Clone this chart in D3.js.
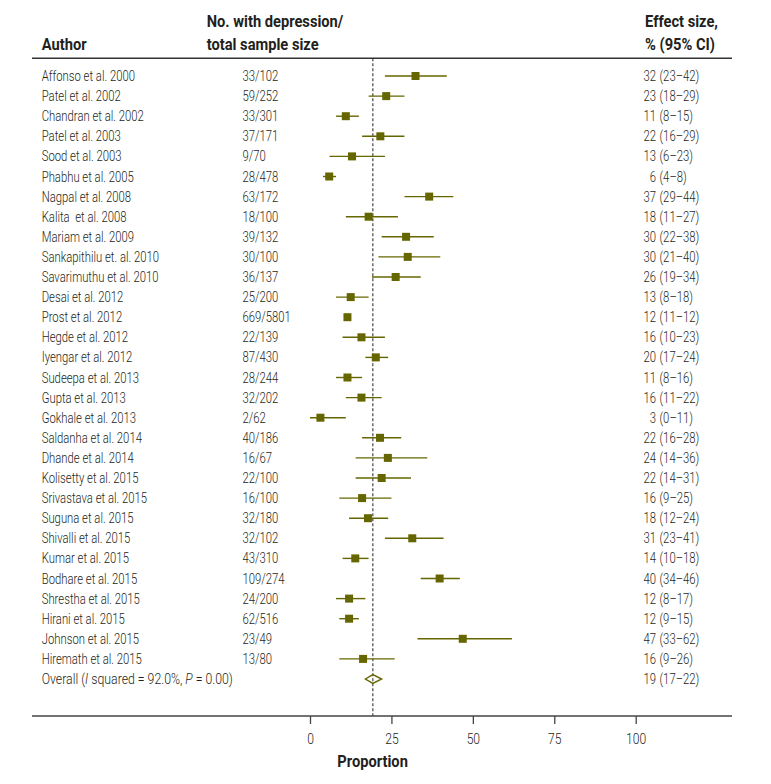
<!DOCTYPE html>
<html><head><meta charset="utf-8">
<script src="https://cdn.jsdelivr.net/npm/d3@7"></script>
<style>
html,body{margin:0;padding:0;background:#fff;}
svg{display:block;}
</style></head>
<body>
<svg id="chart" width="771" height="784"></svg>
<script>
const authors = ["Affonso et al. 2000","Patel et al. 2002","Chandran et al. 2002","Patel et al. 2003","Sood et al. 2003","Phabhu et al. 2005","Nagpal et al. 2008","Kalita\u00a0 et al. 2008","Mariam et al. 2009","Sankapithilu et. al. 2010","Savarimuthu et al. 2010","Desai et al. 2012","Prost et al. 2012","Hegde et al. 2012","Iyengar et al. 2012","Sudeepa et al. 2013","Gupta et al. 2013","Gokhale et al. 2013","Saldanha et al. 2014","Dhande et al. 2014","Kolisetty et al. 2015","Srivastava et al. 2015","Suguna et al. 2015","Shivalli et al. 2015","Kumar et al. 2015","Bodhare et al. 2015","Shrestha et al. 2015","Hirani et al. 2015","Johnson et al. 2015","Hiremath et al. 2015"];
const counts = ["33/102","59/252","33/301","37/171","9/70","28/478","63/172","18/100","39/132","30/100","36/137","25/200","669/5801","22/139","87/430","28/244","32/202","2/62","40/186","16/67","22/100","16/100","32/180","32/102","43/310","109/274","24/200","62/516","23/49","13/80"];
const estimates = [32.4,23.4,11.0,21.6,12.9,5.9,36.6,18.0,29.5,30.0,26.3,12.5,11.5,15.8,20.2,11.5,15.8,3.2,21.5,23.9,22.0,16.0,17.8,31.4,13.9,39.8,12.0,12.0,46.9,16.3];
const lower = [23,18,8,16,6,4,29,11,22,21,19,8,11,10,17,8,11,0,16,14,14,9,12,23,10,34,8,9,33,9];
const upper = [42,29,15,29,23,8,44,27,38,40,34,18,12,23,24,16,22,11,28,36,31,25,24,41,18,46,17,15,62,26];
const estLabels = ["32","23","11","22","13","6","37","18","30","30","26","13","12","16","20","11","16","3","22","24","22","16","18","31","14","40","12","12","47","16"];
const ciLabels = ["(23\u201342)","(18\u201329)","(8\u201315)","(16\u201329)","(6\u201323)","(4\u20138)","(29\u201344)","(11\u201327)","(22\u201338)","(21\u201340)","(19\u201334)","(8\u201318)","(11\u201312)","(10\u201323)","(17\u201324)","(8\u201316)","(11\u201322)","(0\u201311)","(16\u201328)","(14\u201336)","(14\u201331)","(9\u201325)","(12\u201324)","(23\u201341)","(10\u201318)","(34\u201346)","(8\u201317)","(9\u201315)","(33\u201362)","(9\u201326)"];
const overallEst = 19.3, overallLo = 17, overallHi = 22;
const overallEstLabel = "19", overallCiLabel = "(17\u201322)";
const tickValues = [0,25,50,75,100];
const axisTitle = "Proportion";

const olive = "#666600";
const textCol = "#231f20";
const bodyFont = "Roboto, 'Liberation Sans', sans-serif";
const svg = d3.select("#chart");

function measure(str, size, weight){
  const t = svg.append("text").attr("font-family", bodyFont).attr("font-size", size)
    .attr("font-weight", weight).text(str);
  const w = t.node().getComputedTextLength(); t.remove(); return w;
}
const sxBody = 93.3 / measure("Affonso et al. 2000", 14, 300);
const sxBold = 136.7 / measure("No. with depression/", 17, 700);

function txt(g, x, y, str, opt={}){
  const size = opt.size || 14, weight = opt.weight || 300;
  const sx = weight >= 600 ? sxBold : sxBody;
  return g.append("text")
    .attr("transform", `translate(${x},${y}) scale(${sx},1)`)
    .attr("font-family", bodyFont).attr("font-size", size).attr("font-weight", weight)
    .attr("fill", textCol).attr("text-anchor", opt.anchor || "start").text(str);
}

const x = d3.scaleLinear().domain([0,100]).range([310, 635.7]);
const y = d3.scaleLinear().domain([0,30]).range([76, 679]);
const leftX = 32, rightX = 732;

// headers
const hdr = svg.append("g");
txt(hdr, 41.7, 50, "Author", {size:17, weight:700});
txt(hdr, 206.7, 27, "No. with depression/", {size:17, weight:700});
txt(hdr, 206.7, 50, "total sample size", {size:17, weight:700});
txt(hdr, 645, 27, "Effect size,", {size:17, weight:700});
txt(hdr, 645, 50, "% (95% CI)", {size:17, weight:700});
svg.append("line").attr("x1", leftX).attr("x2", rightX).attr("y1", 58.3).attr("y2", 58.3)
  .attr("stroke", "#333").attr("stroke-width", 1.4);

// dashed reference line
svg.append("line").attr("x1", x(overallEst)).attr("x2", x(overallEst))
  .attr("y1", 58.3).attr("y2", 716).attr("stroke", "#333").attr("stroke-width", 1.1)
  .attr("stroke-dasharray", "3,2");

// rows
const rows = svg.append("g");
authors.forEach((a, i) => {
  const cy = y(i);
  txt(rows, 41.7, cy + 5, a);
  txt(rows, 242.5, cy + 5, counts[i]);
  txt(rows, 656, cy + 5, estLabels[i], {anchor:"end"});
  txt(rows, 659.5, cy + 5, ciLabels[i]);
});
rows.selectAll("line.ci").data(estimates).join("line").attr("class","ci")
  .attr("x1", (d,i) => x(lower[i])).attr("x2", (d,i) => x(upper[i]))
  .attr("y1", (d,i) => y(i)).attr("y2", (d,i) => y(i))
  .attr("stroke", olive).attr("stroke-width", 1.4);
rows.selectAll("rect.pt").data(estimates).join("rect").attr("class","pt")
  .attr("x", d => x(d) - 4).attr("y", (d,i) => y(i) - 4)
  .attr("width", 8).attr("height", 8).attr("fill", olive);

// overall
const oy = y(30);
const ov = txt(rows, 41.7, oy + 5, "Overall (");
ov.append("tspan").attr("font-style","italic").text("I");
ov.append("tspan").text(" squared = 92.0%, ");
ov.append("tspan").attr("font-style","italic").text("P");
ov.append("tspan").text(" = 0.00)");
const ovLen = ov.node().getComputedTextLength();
ov.attr("transform", `translate(41.7,${oy + 5}) scale(${191.3 / ovLen},1)`);
txt(rows, 656, oy + 5, overallEstLabel, {anchor:"end"});
txt(rows, 659.5, oy + 5, overallCiLabel);
const dh = 4.4;
rows.append("path")
  .attr("d", `M${x(overallLo)},${oy} L${x(overallEst)},${oy-dh} L${x(overallHi)},${oy} L${x(overallEst)},${oy+dh} Z`)
  .attr("fill", "none").attr("stroke", olive).attr("stroke-width", 1.4);

// axis
const axY = 716;
svg.append("line").attr("x1", leftX).attr("x2", rightX).attr("y1", axY).attr("y2", axY)
  .attr("stroke", "#444").attr("stroke-width", 1.4);
const axG = svg.append("g").attr("transform", `translate(0,${axY})`)
  .call(d3.axisBottom(x).tickValues(tickValues).tickSize(8).tickFormat(d3.format("d")));
axG.select(".domain").remove();
axG.selectAll(".tick line").attr("stroke", "#444").attr("stroke-width", 1.3);
axG.selectAll(".tick text")
  .attr("y", 28).attr("dy", null)
  .attr("transform", `scale(${sxBody},1)`)
  .attr("font-family", bodyFont).attr("font-size", 15).attr("font-weight", 300)
  .attr("fill", textCol);
txt(svg, 372.6, 767, axisTitle, {size:17, weight:700, anchor:"middle"});
</script>
</body></html>
